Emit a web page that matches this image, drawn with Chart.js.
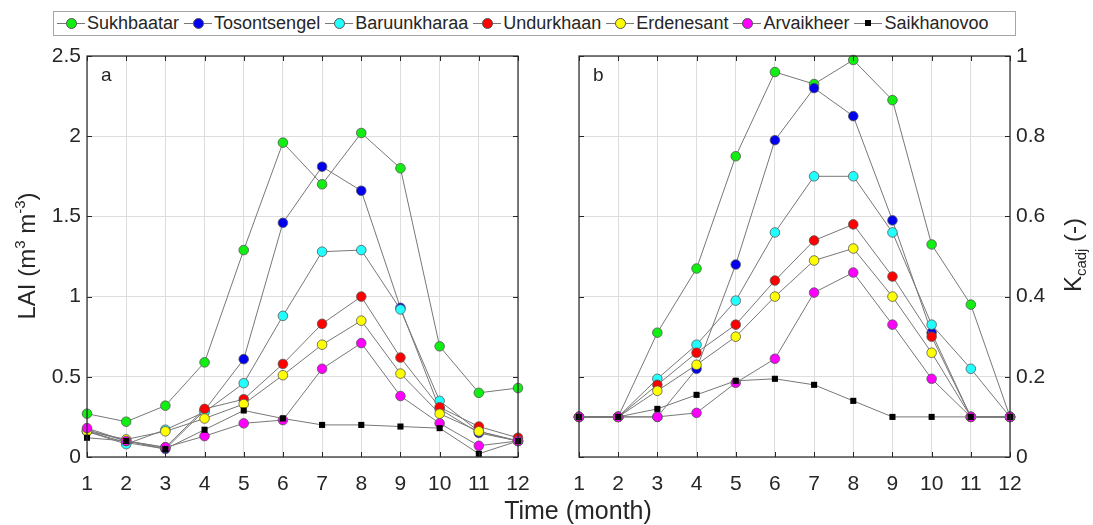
<!DOCTYPE html>
<html>
<head>
<meta charset="utf-8">
<script src="https://cdn.jsdelivr.net/npm/chart.js@4.4.1/dist/chart.umd.min.js"></script>
<style>
  body { margin: 0; background: #fff; }
  #wrap { position: relative; width: 1093px; height: 525px; font-family: "Liberation Sans", Arial, sans-serif; color: #262626; }
  .panel { position: absolute; top: 0; }
  #legend { position: absolute; left: 53px; top: 11px; width: 958px; height: 23px; padding-left: 3px;
            border: 1px solid #a6a6a6; background: #fff; display: flex; align-items: center; font-size: 18px; white-space: nowrap; }
  .item { display: flex; align-items: center; margin-right: 5px; }
  .sym { position: relative; width: 28px; height: 23px; margin-right: 2px; }
  .sym::before { content: ""; position: absolute; left: 0; right: 0; top: 11px; height: 1px; background: #777; }
  .dot { position: absolute; left: 9px; top: 6px; width: 9px; height: 9px; border-radius: 50%; border: 0.8px solid #555; }
  .dot.sq { left: 11px; top: 8px; width: 6px; height: 6px; border-radius: 0; border: none; }
  #xtitle { position: absolute; left: 478px; width: 200px; top: 495px; line-height: 30px; text-align: center; font-size: 25px; }
</style>
</head>
<body>
<div id="wrap">
  <div class="panel" style="left:0"><canvas id="panelA" width="546" height="525"></canvas></div>
  <div class="panel" style="left:546px"><canvas id="panelB" width="547" height="525"></canvas></div>
  <div id="legend"></div>
  <div id="xtitle">Time (month)</div>
</div>
<script>
const months = [1, 2, 3, 4, 5, 6, 7, 8, 9, 10, 11, 12];
const stations = ['Sukhbaatar', 'Tosontsengel', 'Baruunkharaa', 'Undurkhaan', 'Erdenesant', 'Arvaikheer', 'Saikhanovoo'];
const colors = ['#11ee11', '#0000ee', '#22ffff', '#ff0000', '#ffff00', '#ff00ff', '#000000'];

// panel a: leaf area index
const laiSukhbaatar   = [0.27, 0.22, 0.32, 0.59, 1.29, 1.96, 1.70, 2.02, 1.80, 0.69, 0.40, 0.43];
const laiTosontsengel = [0.16, 0.09, 0.05, 0.29, 0.61, 1.46, 1.81, 1.66, 0.93, 0.30, 0.15, 0.10];
const laiBaruunkharaa = [0.16, 0.08, 0.17, 0.28, 0.46, 0.88, 1.28, 1.29, 0.92, 0.35, 0.16, 0.10];
const laiUndurkhaan   = [0.17, 0.10, 0.06, 0.30, 0.36, 0.58, 0.83, 1.00, 0.62, 0.31, 0.19, 0.12];
const laiErdenesant   = [0.16, 0.11, 0.16, 0.24, 0.33, 0.51, 0.70, 0.85, 0.52, 0.27, 0.16, 0.10];
const laiArvaikheer   = [0.18, 0.10, 0.06, 0.13, 0.21, 0.23, 0.55, 0.71, 0.38, 0.21, 0.07, 0.10];
const laiSaikhanovoo  = [0.12, 0.10, 0.05, 0.17, 0.29, 0.24, 0.20, 0.20, 0.19, 0.18, 0.02, 0.10];

// panel b: adjusted crop coefficient
const kcSukhbaatar   = [0.10, 0.10, 0.31, 0.47, 0.75, 0.96, 0.93, 0.99, 0.89, 0.53, 0.38, 0.10];
const kcTosontsengel = [0.10, 0.10, 0.10, 0.22, 0.48, 0.79, 0.92, 0.85, 0.59, 0.31, 0.10, 0.10];
const kcBaruunkharaa = [0.10, 0.10, 0.195, 0.28, 0.39, 0.56, 0.70, 0.70, 0.56, 0.33, 0.22, 0.10];
const kcUndurkhaan   = [0.10, 0.10, 0.18, 0.26, 0.33, 0.44, 0.54, 0.58, 0.45, 0.30, 0.10, 0.10];
const kcErdenesant   = [0.10, 0.10, 0.165, 0.23, 0.30, 0.40, 0.49, 0.52, 0.40, 0.26, 0.10, 0.10];
const kcArvaikheer   = [0.10, 0.10, 0.10, 0.11, 0.185, 0.245, 0.41, 0.46, 0.33, 0.195, 0.10, 0.10];
const kcSaikhanovoo  = [0.10, 0.10, 0.12, 0.155, 0.19, 0.195, 0.18, 0.14, 0.10, 0.10, 0.10, 0.10];

const laiSeries = [laiSukhbaatar, laiTosontsengel, laiBaruunkharaa, laiUndurkhaan, laiErdenesant, laiArvaikheer, laiSaikhanovoo];
const kcSeries = [kcSukhbaatar, kcTosontsengel, kcBaruunkharaa, kcUndurkhaan, kcErdenesant, kcArvaikheer, kcSaikhanovoo];

const FONT = '"Liberation Sans", Arial, sans-serif';
const INK = '#262626';

// legend row across both panels
const legend = document.getElementById('legend');
stations.forEach((name, i) => {
  const item = document.createElement('span');
  item.className = 'item';
  const sq = i === stations.length - 1;
  item.innerHTML = '<span class="sym"><span class="dot' + (sq ? ' sq' : '') + '" style="background:' + colors[i] + '"></span></span>' + name;
  legend.appendChild(item);
});

function buildDatasets(series) {
  return series.map((vals, i) => {
    const last = i === series.length - 1;
    return {
      label: stations[i],
      data: months.map((m, k) => ({ x: m, y: vals[k] })),
      borderColor: '#777',
      borderWidth: 1,
      backgroundColor: colors[i],
      pointBackgroundColor: colors[i],
      pointBorderColor: last ? '#000' : '#555',
      pointBorderWidth: last ? 0 : 0.8,
      pointStyle: last ? 'rect' : 'circle',
      pointRadius: last ? 4.3 : 4.8,
      tension: 0,
      clip: false,
      order: series.length - 1 - i   // later stations drawn on top
    };
  });
}

// draws a rotated label made of runs [text, size, dy] centred on (x, y)
function drawRuns(ctx, runs, x, y) {
  ctx.save();
  ctx.translate(x, y);
  ctx.rotate(-Math.PI / 2);
  ctx.fillStyle = INK;
  ctx.textBaseline = 'alphabetic';
  ctx.textAlign = 'left';
  let total = 0;
  runs.forEach(r => { ctx.font = r[1] + 'px ' + FONT; total += ctx.measureText(r[0]).width; });
  let cx = -total / 2;
  runs.forEach(r => {
    ctx.font = r[1] + 'px ' + FONT;
    ctx.fillText(r[0], cx, r[2]);
    cx += ctx.measureText(r[0]).width;
  });
  ctx.restore();
}

// axes box with inward ticks, panel letter and side label
const framePlugin = {
  id: 'frame',
  afterDraw: (chart, args, opts) => {
    const { ctx, chartArea: a, scales } = chart;
    ctx.save();
    ctx.strokeStyle = INK;
    ctx.lineWidth = 1.2;
    ctx.strokeRect(a.left, a.top, a.right - a.left, a.bottom - a.top);
    ctx.lineWidth = 1;
    ctx.beginPath();
    scales.x.ticks.forEach(t => {
      const px = Math.round(scales.x.getPixelForValue(t.value)) + 0.5;
      ctx.moveTo(px, a.bottom); ctx.lineTo(px, a.bottom - 5);
      ctx.moveTo(px, a.top); ctx.lineTo(px, a.top + 5);
    });
    scales.y.ticks.forEach(t => {
      const py = Math.round(scales.y.getPixelForValue(t.value)) + 0.5;
      ctx.moveTo(a.left, py); ctx.lineTo(a.left + 5, py);
      ctx.moveTo(a.right, py); ctx.lineTo(a.right - 5, py);
    });
    ctx.stroke();
    ctx.fillStyle = INK;
    ctx.font = '19px ' + FONT;
    ctx.textBaseline = 'alphabetic';
    ctx.fillText(opts.letter, a.left + 14, a.top + 25);
    ctx.restore();
    drawRuns(ctx, opts.title, opts.titleX, opts.titleY);
  }
};

function makePanel(id, series, yMax, yStep, pad, yPos, yWidth, frame) {
  return new Chart(document.getElementById(id), {
    type: 'line',
    data: { datasets: buildDatasets(series) },
    options: {
      responsive: false,
      animation: false,
      layout: { padding: pad },
      plugins: {
        legend: { display: false },
        tooltip: { enabled: false },
        frame: frame
      },
      scales: {
        x: {
          type: 'linear',
          min: 1, max: 12,
          grid: { color: '#dedede', lineWidth: 1, drawTicks: false },
          border: { display: false },
          ticks: { stepSize: 1, padding: 15, color: INK, font: { family: FONT, size: 21 } },
          afterFit: s => { s.height = 68; }
        },
        y: {
          position: yPos,
          min: 0, max: yMax,
          grid: { color: '#dedede', lineWidth: 1, drawTicks: false },
          border: { display: false },
          ticks: {
            stepSize: yStep, padding: 6, color: INK, font: { family: FONT, size: 21 },
            callback: v => String(+v.toFixed(1))
          },
          afterFit: s => { s.width = yWidth; }
        }
      }
    },
    plugins: [framePlugin]
  });
}

makePanel('panelA', laiSeries, 2.5, 0.5, { top: 56, right: 28, left: 0, bottom: 0 }, 'left', 87, {
  letter: 'a',
  title: [['LAI (m', 24, 0], ['3', 15, -10], [' m', 24, 0], ['-3', 15, -10], [')', 24, 0]],
  titleX: 35, titleY: 256
});

makePanel('panelB', kcSeries, 1, 0.2, { top: 56, right: 0, left: 33, bottom: 0 }, 'right', 83, {
  letter: 'b',
  title: [['K', 24, 0], ['cadj', 15, 5], [' (-)', 24, 0]],
  titleX: 535, titleY: 255
});
</script>
</body>
</html>
